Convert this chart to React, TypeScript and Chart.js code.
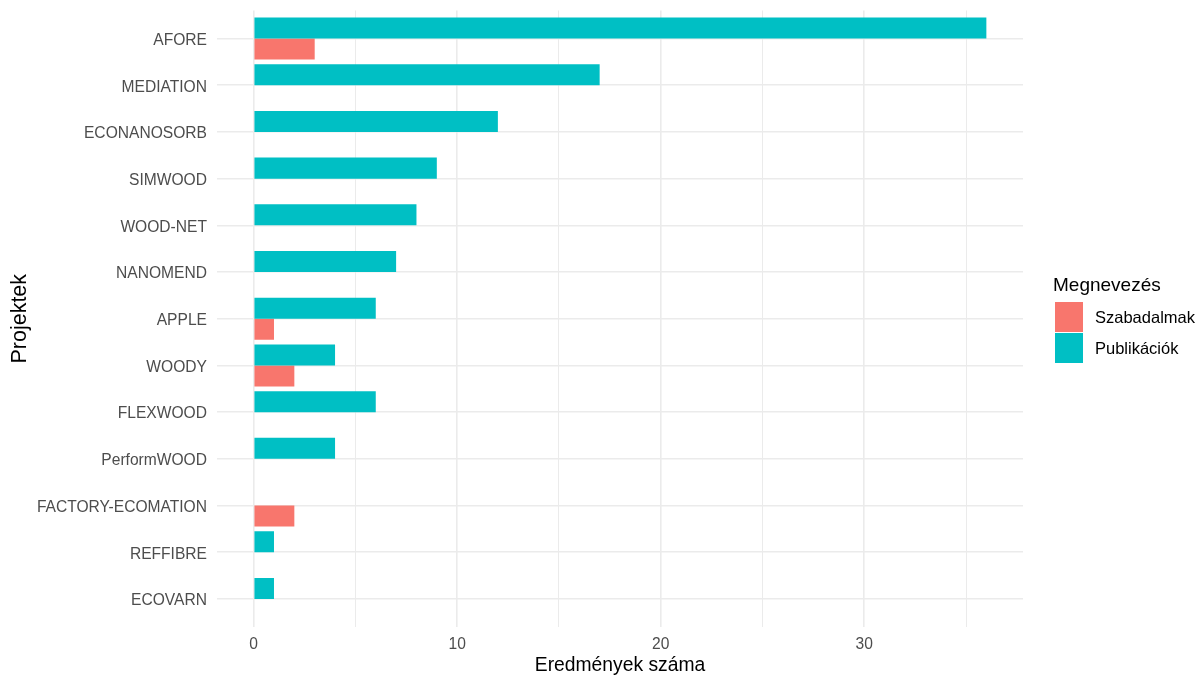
import React, { useEffect, useRef } from "react";
import { Chart, registerables } from "chart.js";

Chart.register(...registerables);

const categories = [
  "AFORE",
  "MEDIATION",
  "ECONANOSORB",
  "SIMWOOD",
  "WOOD-NET",
  "NANOMEND",
  "APPLE",
  "WOODY",
  "FLEXWOOD",
  "PerformWOOD",
  "FACTORY-ECOMATION",
  "REFFIBRE",
  "ECOVARN",
];
const publikaciok: (number | null)[] = [36, 17, 12, 9, 8, 7, 6, 4, 6, 4, null, 1, 1];
const szabadalmak: (number | null)[] = [3, null, null, null, null, null, 1, 2, null, null, 2, null, null];
const xGridValues = [0, 5, 10, 15, 20, 25, 30, 35];
const xTickLabels = [0, 10, 20, 30];

const seriesNames = ["Publikációk", "Szabadalmak"];
const seriesColors = ["#00BFC4", "#F8766D"];

const FONT = "'Liberation Sans', Arial, sans-serif";

export default function App() {
  const canvasRef = useRef<HTMLCanvasElement | null>(null);

  useEffect(() => {
    const canvas = canvasRef.current;
    if (!canvas) return;
    const chart = new Chart(canvas, {
      type: "bar",
      data: {
        datasets: [
          {
            label: seriesNames[0],
            data: categories.map((_, i) => ({ y: i, x: publikaciok[i] })) as any,
            backgroundColor: seriesColors[0],
            borderWidth: 0,
            categoryPercentage: 0.9,
            barPercentage: 1,
          },
          {
            label: seriesNames[1],
            data: categories.map((_, i) => ({ y: i, x: szabadalmak[i] })) as any,
            backgroundColor: seriesColors[1],
            borderWidth: 0,
            categoryPercentage: 0.9,
            barPercentage: 1,
          },
        ],
      },
      options: {
        indexAxis: "y",
        responsive: false,
        animation: false,
        layout: { padding: { top: 10.5, right: 180, bottom: 0, left: 0 } },
        plugins: {
          legend: { display: false },
          tooltip: { enabled: false },
        },
        scales: {
          x: {
            type: "linear",
            min: -1.8,
            max: 37.8,
            offset: false,
            border: { display: false },
            afterBuildTicks: (axis: any) => {
              axis.ticks = xGridValues.map((v) => ({ value: v }));
            },
            afterFit: (scale: any) => {
              scale.height = 50;
              scale.paddingLeft = 0;
              scale.paddingRight = 0;
            },
            grid: {
              drawTicks: false,
              offset: false,
              color: "#ebebeb",
              lineWidth: (ctx: any) => (ctx.tick && ctx.tick.value % 10 === 0 ? 1.6 : 1),
            },
            ticks: {
              padding: 8,
              color: "#4d4d4d",
              font: { family: FONT, size: 15.6 },
              autoSkip: false,
              maxRotation: 0,
              callback: (v: any) => (xTickLabels.includes(Number(v)) ? String(v) : ""),
            },
            title: {
              display: true,
              text: "Eredmények száma",
              color: "#000000",
              font: { family: FONT, size: 19.3 },
              padding: { top: 0, bottom: 0 },
            },
          },
          y: {
            type: "linear",
            reverse: true,
            min: -0.6,
            max: 12.6,
            offset: false,
            border: { display: false },
            afterBuildTicks: (axis: any) => {
              axis.ticks = categories.map((_, i) => ({ value: i }));
            },
            afterFit: (scale: any) => {
              scale.width = 217;
              scale.paddingTop = 0;
              scale.paddingBottom = 0;
            },
            grid: {
              drawTicks: false,
              offset: false,
              color: "#ebebeb",
              lineWidth: 1.6,
            },
            ticks: {
              padding: 10,
              labelOffset: 2,
              color: "#4d4d4d",
              font: { family: FONT, size: 15.6 },
              autoSkip: false,
              callback: (v: any) => categories[Number(v)] ?? "",
            },
            title: {
              display: true,
              text: "Projektek",
              color: "#000000",
              font: { family: FONT, size: 21.5 },
              padding: { top: 7, bottom: 0 },
            },
          },
        },
      },
    });
    return () => chart.destroy();
  }, []);

  const legendItems = [
    { name: seriesNames[1], color: seriesColors[1], top: 302 },
    { name: seriesNames[0], color: seriesColors[0], top: 333 },
  ];

  return (
    <div
      style={{
        position: "fixed",
        left: 0,
        top: 0,
        width: 1203,
        height: 677,
        background: "#ffffff",
        fontFamily: FONT,
      }}
    >
      <canvas ref={canvasRef} width={1203} height={677} style={{ width: 1203, height: 677, display: "block" }} />
      <div
        style={{
          position: "absolute",
          left: 1053,
          top: 275,
          fontSize: 19,
          lineHeight: "19px",
          color: "#000",
          whiteSpace: "nowrap",
        }}
      >
        Megnevezés
      </div>
      {legendItems.map((it) => (
        <React.Fragment key={it.name}>
          <div
            style={{
              position: "absolute",
              left: 1055,
              top: it.top,
              width: 28,
              height: 30,
              background: it.color,
            }}
          />
          <div
            style={{
              position: "absolute",
              left: 1095,
              top: it.top,
              height: 30,
              display: "flex",
              alignItems: "center",
              fontSize: 16.5,
              color: "#000",
              whiteSpace: "nowrap",
            }}
          >
            {it.name}
          </div>
        </React.Fragment>
      ))}
    </div>
  );
}
